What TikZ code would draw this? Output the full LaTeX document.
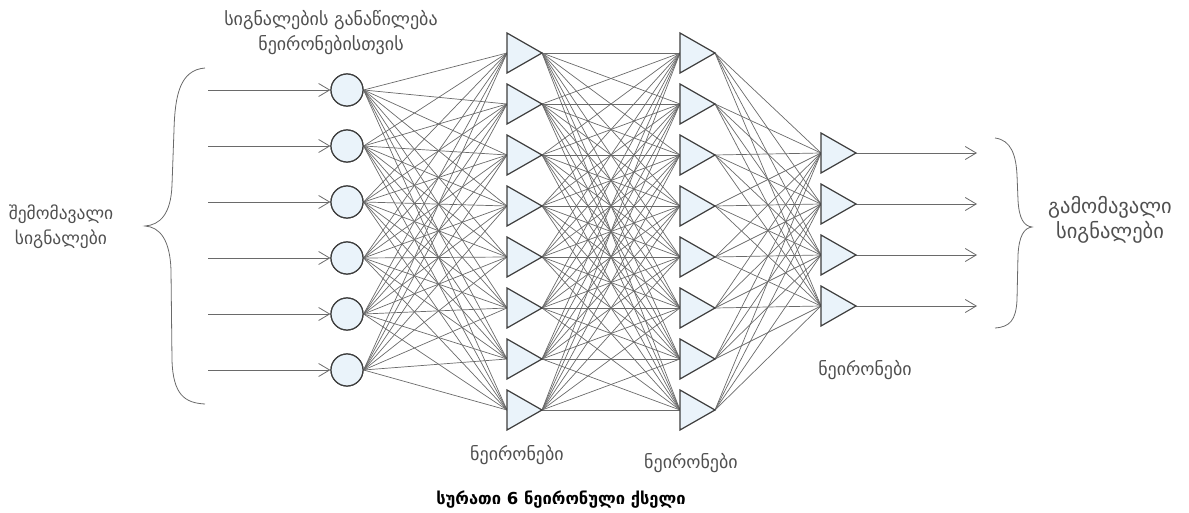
\documentclass[tikz,border=0pt]{standalone}
\usepackage{fontspec}
\newfontfamily\geo{DejaVu Sans}
\usetikzlibrary{arrows.meta,calc}
\definecolor{linkgray}{HTML}{6A6A6A}
\definecolor{edgegray}{HTML}{3E3E3E}
\definecolor{cellfill}{HTML}{EAF3FA}
\definecolor{labelgray}{HTML}{505050}
\begin{document}
\begin{tikzpicture}[x=1pt,y=-1pt,
  link/.style={draw=linkgray,line width=0.7pt},
  signal/.style={draw=linkgray,line width=0.8pt,-{Straight Barb[length=11pt,width=13pt,line width=0.8pt]}},
  splitter/.style={circle,draw=edgegray,fill=cellfill,line width=1.2pt,minimum size=32,inner sep=0pt},
  cell/.style={draw=edgegray,fill=cellfill,line width=1.2pt,line join=miter},
  brace/.style={draw=linkgray,line width=0.8pt},
  label/.style={font=\geo\fontsize{18}{25}\selectfont,text=labelgray,align=center,inner sep=0pt},
  caption/.style={font=\geo\bfseries\fontsize{16.5}{20}\selectfont,text=black,inner sep=0pt}]
\useasboundingbox (0,0) rectangle (1189,513);

% distribution nodes and their inputs
\foreach \i in {1,...,6}{
  \pgfmathsetmacro{\yy}{90+56*(\i-1)}
  \node[splitter] (c\i) at (347,\yy) {};
  \coordinate (in\i) at (208,\yy);
}
% two hidden layers of eight neurons
\foreach \i in {1,...,8}{
  \pgfmathsetmacro{\yy}{53+51*(\i-1)}
  \coordinate (a\i) at (507,\yy);
  \coordinate (a\i t) at (542,\yy);
  \coordinate (b\i) at (680,\yy);
  \coordinate (b\i t) at (715,\yy);
}
% output layer
\foreach \i in {1,...,4}{
  \pgfmathsetmacro{\yy}{153+51*(\i-1)}
  \coordinate (d\i) at (821,\yy);
  \coordinate (d\i t) at (856,\yy);
  \coordinate (out\i) at (977,\yy);
}

% connections
\foreach \i in {1,...,6}{\foreach \j in {1,...,8}{\draw[link] (c\i.east) -- (a\j);}}
\foreach \i in {1,...,8}{\foreach \j in {1,...,8}{\draw[link] (a\i t) -- (b\j);}}
\foreach \i in {1,...,8}{\foreach \j in {1,...,4}{\draw[link] (b\i t) -- (d\j);}}
\foreach \i in {1,...,6}{\draw[signal] (in\i) -- (c\i.west);}
\foreach \i in {1,...,4}{\draw[signal] (d\i t) -- (out\i);}

% neuron bodies
\foreach \i in {1,...,8}{
  \draw[cell] ($(a\i)+(0,-20)$) -- (a\i t) -- ($(a\i)+(0,20)$) -- cycle;
  \draw[cell] ($(b\i)+(0,-20)$) -- (b\i t) -- ($(b\i)+(0,20)$) -- cycle;
}
\foreach \i in {1,...,4}{
  \draw[cell] ($(d\i)+(0,-20)$) -- (d\i t) -- ($(d\i)+(0,20)$) -- cycle;
}
\foreach \i in {1,...,6}{\node[splitter] at (c\i) {};}

% braces
\draw[brace] (205,68) .. controls (180,70) and (175,95) .. (174,130)
  -- (172,185) .. controls (171,214) and (160,225) .. (145,226)
  .. controls (160,227) and (170,240) .. (171,270)
  -- (172,360) .. controls (173,395) and (185,403) .. (205,404);
\draw[brace] (995,138) .. controls (1011,140) and (1016,155) .. (1017,175)
  -- (1018,200) .. controls (1019,219) and (1024,226) .. (1032,227)
  .. controls (1024,228) and (1019,236) .. (1018,255)
  -- (1017,300) .. controls (1016,320) and (1010,327) .. (995,328);

% labels
\node[label,font=\geo\fontsize{17.5}{25}\selectfont] (lin) at (61,227) {შემომავალი\\სიგნალები};
\node[label,font=\geo\fontsize{20.5}{25}\selectfont] (lout) at (1110,220) {გამომავალი\\სიგნალები};
\node[label] (ltop) at (331,33) {სიგნალების განაწილება\\ნეირონებისთვის};
\node[label] (l1) at (517,455) {ნეირონები};
\node[label] (l2) at (691,463) {ნეირონები};
\node[label] (l3) at (865,370) {ნეირონები};
\node[caption] (cap) at (561,500) {სურათი 6 ნეირონული ქსელი};
\end{tikzpicture}
\end{document}
